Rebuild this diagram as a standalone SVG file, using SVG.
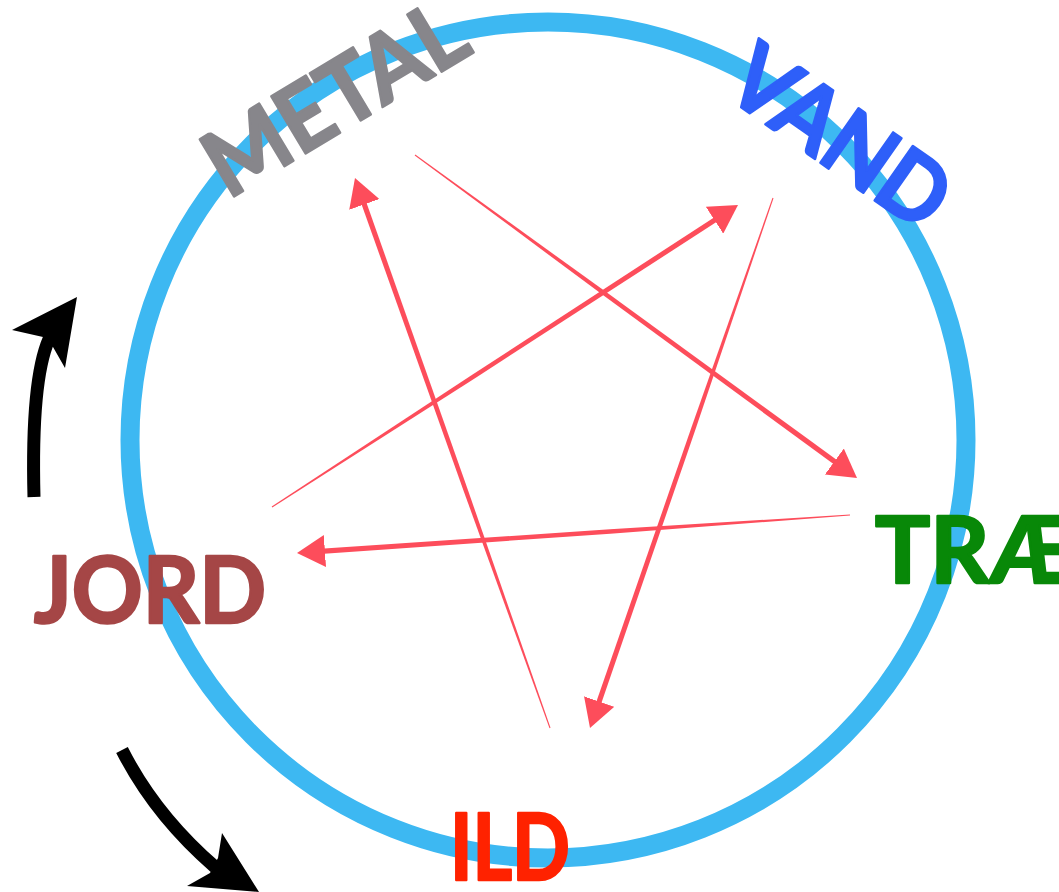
<svg xmlns="http://www.w3.org/2000/svg" width="1059" height="892" viewBox="0 0 1059 892">
<style>
.lbl{font-family:Lato,"Open Sans","Liberation Sans",sans-serif;font-weight:700;font-size:92px;stroke-width:2.6;stroke-linejoin:round}
.shaft{fill:#fd4d5b}
.hd{stroke:none;fill:none}
.blk{fill:none;stroke:#000;stroke-width:13}
.blkh{fill:#000}
</style>
<defs>
<marker id="ah" markerUnits="userSpaceOnUse" markerWidth="28" markerHeight="32" viewBox="0 0 28 32" refX="28" refY="16" orient="auto">
<path d="M0,0 L28,16 L0,32 Z" fill="#fd4d5b"/>
</marker>
</defs>
<rect width="1059" height="892" fill="#fff"/>
<g id="cycle">
<circle cx="548" cy="440" r="418" fill="none" stroke="#3db8f2" stroke-width="19"/>
</g>
<g id="connectors">
<g id="a-metal-trae">
<path class="shaft" d="M414.7,155.4 L605.3,296.8 L839.3,468.3 L842.4,464.1 L607.9,293.3 L415.3,154.6 Z"/>
<line class="hd" x1="840.85" y1="466.2" x2="857" y2="478" marker-end="url(#ah)"/>
</g>
<g id="a-trae-jord">
<path class="shaft" d="M850,514.5 L610,529.3 L316.8,549.0 L317.1,554.2 L610.3,533.7 L850,515.5 Z"/>
<line class="hd" x1="316.95" y1="551.63" x2="297" y2="553" marker-end="url(#ah)"/>
</g>
<g id="a-jord-vand">
<path class="shaft" d="M272.3,507.4 L475.4,377.9 L722.6,218.1 L719.8,213.7 L473.0,374.2 L271.7,506.6 Z"/>
<line class="hd" x1="721.22" y1="215.88" x2="738" y2="205" marker-end="url(#ah)"/>
</g>
<g id="a-vand-ild">
<path class="shaft" d="M772.5,197.8 L691.5,427.3 L594.1,708.2 L599.0,709.9 L695.7,428.7 L773.5,198.2 Z"/>
<line class="hd" x1="596.53" y1="709.09" x2="590" y2="728" marker-end="url(#ah)"/>
</g>
<g id="a-ild-metal">
<path class="shaft" d="M550.5,727.8 L467.3,488.2 L364.1,196.0 L359.2,197.7 L463.2,489.7 L549.5,728.2 Z"/>
<line class="hd" x1="361.68" y1="196.85" x2="355" y2="178" marker-end="url(#ah)"/>
</g>
<g id="cycle-arrow-up">
<path class="blk" d="M34,497 Q31,380 49,339"/>
<polygon class="blkh" points="77,297 12,330 43,337 53,347 65,368"/>
</g>
<g id="cycle-arrow-down">
<path class="blk" d="M122,750 Q155,815 215,867"/>
<polygon class="blkh" points="259,892 222,833 218,858 210,873 187,886"/>
</g>
</g>
<g id="node-metal">
<text class="lbl" fill="#87868b" stroke="#87868b" transform="translate(228,200) rotate(-31)" textLength="288" lengthAdjust="spacingAndGlyphs">METAL</text>
</g>
<g id="node-vand">
<text class="lbl" fill="#2e5ff9" stroke="#2e5ff9" transform="translate(721,93) rotate(35)" textLength="246" lengthAdjust="spacingAndGlyphs">VAND</text>
</g>
<g id="node-trae">
<text class="lbl" fill="#088808" stroke="#088808" x="875" y="583" textLength="200" lengthAdjust="spacingAndGlyphs">TRÆ</text>
</g>
<g id="node-ild">
<text class="lbl" fill="#ff2200" stroke="#ff2200" x="450" y="880" textLength="120" lengthAdjust="spacingAndGlyphs">ILD</text>
</g>
<g id="node-jord">
<text class="lbl" fill="#a54646" stroke="#a54646" x="34" y="623" textLength="232" lengthAdjust="spacingAndGlyphs">JORD</text>
</g>
</svg>
